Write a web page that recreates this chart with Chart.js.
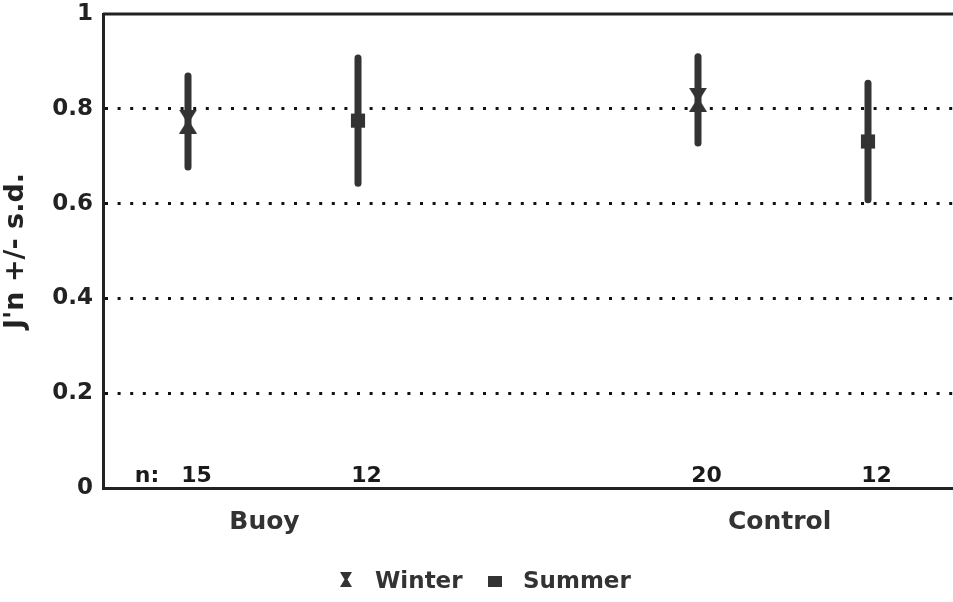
<!DOCTYPE html>
<html>
<head>
<meta charset="utf-8">
<script src="https://cdn.jsdelivr.net/npm/chart.js@4.4.1/dist/chart.umd.min.js"></script>
<style>
  html, body { margin: 0; padding: 0; background: #fff; }
  #wrap { width: 953px; height: 602px; }
</style>
</head>
<body>
<div id="wrap"><canvas id="c" width="953" height="602"></canvas></div>
<script>
// groups and seasons
const groups = ['Buoy', 'Control'];
const seasons = ['Winter', 'Summer'];
// mean J'n and s.d. per group, per season
const winterMean = [0.773, 0.819];
const winterSd = [0.096, 0.091];
const summerMean = [0.775, 0.731];
const summerSd = [0.132, 0.123];
// sample sizes, order: Buoy W, Buoy S, Control W, Control S
const nValues = [15, 12, 20, 12];
const yTicks = [0, 0.2, 0.4, 0.6, 0.8, 1];

const ink = '#333333';
const font = "'DejaVu Sans', sans-serif";

function hourglass(w, h) {
    const cv = document.createElement('canvas');
    cv.width = w; cv.height = h;
    const g = cv.getContext('2d');
    g.fillStyle = ink;
    g.beginPath();
    g.moveTo(0, 0); g.lineTo(w, 0); g.lineTo(w / 2 + 1.5, h / 2);
    g.lineTo(w, h); g.lineTo(0, h); g.lineTo(w / 2 - 1.5, h / 2);
    g.closePath();
    g.fill();
    return cv;
}
const hgMarker = hourglass(18, 24);
const hgLegend = hourglass(12, 15);

function xPos(gi, si) { return gi * 3 + 0.5 + si; }

const datasets = [];
// error bars
groups.forEach((g, gi) => {
    [[winterMean, winterSd], [summerMean, summerSd]].forEach(([m, s], si) => {
        datasets.push({
            type: 'line',
            data: [{x: xPos(gi, si), y: m[gi] - s[gi]}, {x: xPos(gi, si), y: m[gi] + s[gi]}],
            borderColor: ink,
            borderWidth: 7,
            pointRadius: 0,
            borderCapStyle: 'round'
        });
    });
});
datasets.push({
    type: 'scatter',
    label: 'Winter',
    data: groups.map((g, gi) => ({x: xPos(gi, 0), y: winterMean[gi]})),
    pointStyle: hgMarker,
    backgroundColor: ink
});
datasets.push({
    type: 'scatter',
    label: 'Summer',
    data: groups.map((g, gi) => ({x: xPos(gi, 1), y: summerMean[gi]})),
    pointStyle: 'rect',
    pointRadius: 10,
    borderWidth: 0,
    backgroundColor: ink
});

const extras = {
    id: 'extras',
    afterDraw(chart) {
        const {ctx, chartArea: a, scales: {x}} = chart;
        ctx.save();
        // top frame line
        ctx.strokeStyle = '#222';
        ctx.lineWidth = 3;
        ctx.beginPath();
        ctx.moveTo(a.left, a.top); ctx.lineTo(a.right, a.top);
        ctx.stroke();
        // sample sizes
        ctx.fillStyle = '#1a1a1a';
        ctx.font = 'bold 22px ' + font;
        ctx.textAlign = 'center';
        ctx.textBaseline = 'alphabetic';
        nValues.forEach((n, i) => {
            const gi = Math.floor(i / 2), si = i % 2;
            ctx.fillText(String(n), x.getPixelForValue(xPos(gi, si) + 0.05), a.bottom - 6);
        });
        ctx.fillText('n:', x.getPixelForValue(xPos(0, 0)) - 41, a.bottom - 6);
        // legend
        ctx.font = 'bold 23px ' + font;
        ctx.textAlign = 'left';
        ctx.fillStyle = ink;
        const ly = 580;
        ctx.drawImage(hgLegend, 340, ly - 8);
        ctx.fillText('Winter', 375, ly + 8);
        ctx.fillRect(488, ly - 4, 14, 11);
        ctx.fillText('Summer', 523, ly + 8);
        ctx.restore();
    }
};

new Chart(document.getElementById('c'), {
    data: {datasets},
    options: {
        responsive: false,
        animation: false,
        layout: {autoPadding: false, padding: {top: 14, right: 0, left: 0, bottom: 0}},
        plugins: {legend: {display: false}, tooltip: {enabled: false}},
        scales: {
            x: {
                type: 'linear',
                min: 0,
                max: 5,
                afterFit(scale) {
                    scale.height = 114;
                    scale.paddingLeft = 0;
                    scale.paddingRight = 0;
                },
                afterBuildTicks(scale) { scale.ticks = [{value: 0.95}, {value: 3.98}]; },
                ticks: {
                    callback: (v, i) => groups[i],
                    font: {family: font, size: 25, weight: 'bold'},
                    color: ink,
                    padding: 19
                },
                grid: {display: false, drawTicks: false},
                border: {color: '#222', width: 3}
            },
            y: {
                min: 0,
                max: 1,
                afterFit(scale) {
                    scale.width = 103;
                    scale.paddingTop = 0;
                    scale.paddingBottom = 0;
                },
                afterBuildTicks(scale) { scale.ticks = yTicks.map(v => ({value: v})); },
                ticks: {
                    callback: v => String(v),
                    font: {family: font, size: 23, weight: 'bold'},
                    color: '#222',
                    padding: 10
                },
                grid: {
                    drawTicks: false,
                    color: c => (c.tick && c.tick.value > 0 && c.tick.value < 1) ? '#111' : 'rgba(0,0,0,0)',
                    lineWidth: 3
                },
                border: {color: '#222', width: 3, dash: [3, 9.6]},
                title: {
                    display: true,
                    text: "J'n +/- s.d.",
                    font: {family: font, size: 27, weight: 'bold'},
                    color: '#222',
                    padding: {top: 0, bottom: 2}
                }
            }
        }
    },
    plugins: [extras]
});
</script>
</body>
</html>
